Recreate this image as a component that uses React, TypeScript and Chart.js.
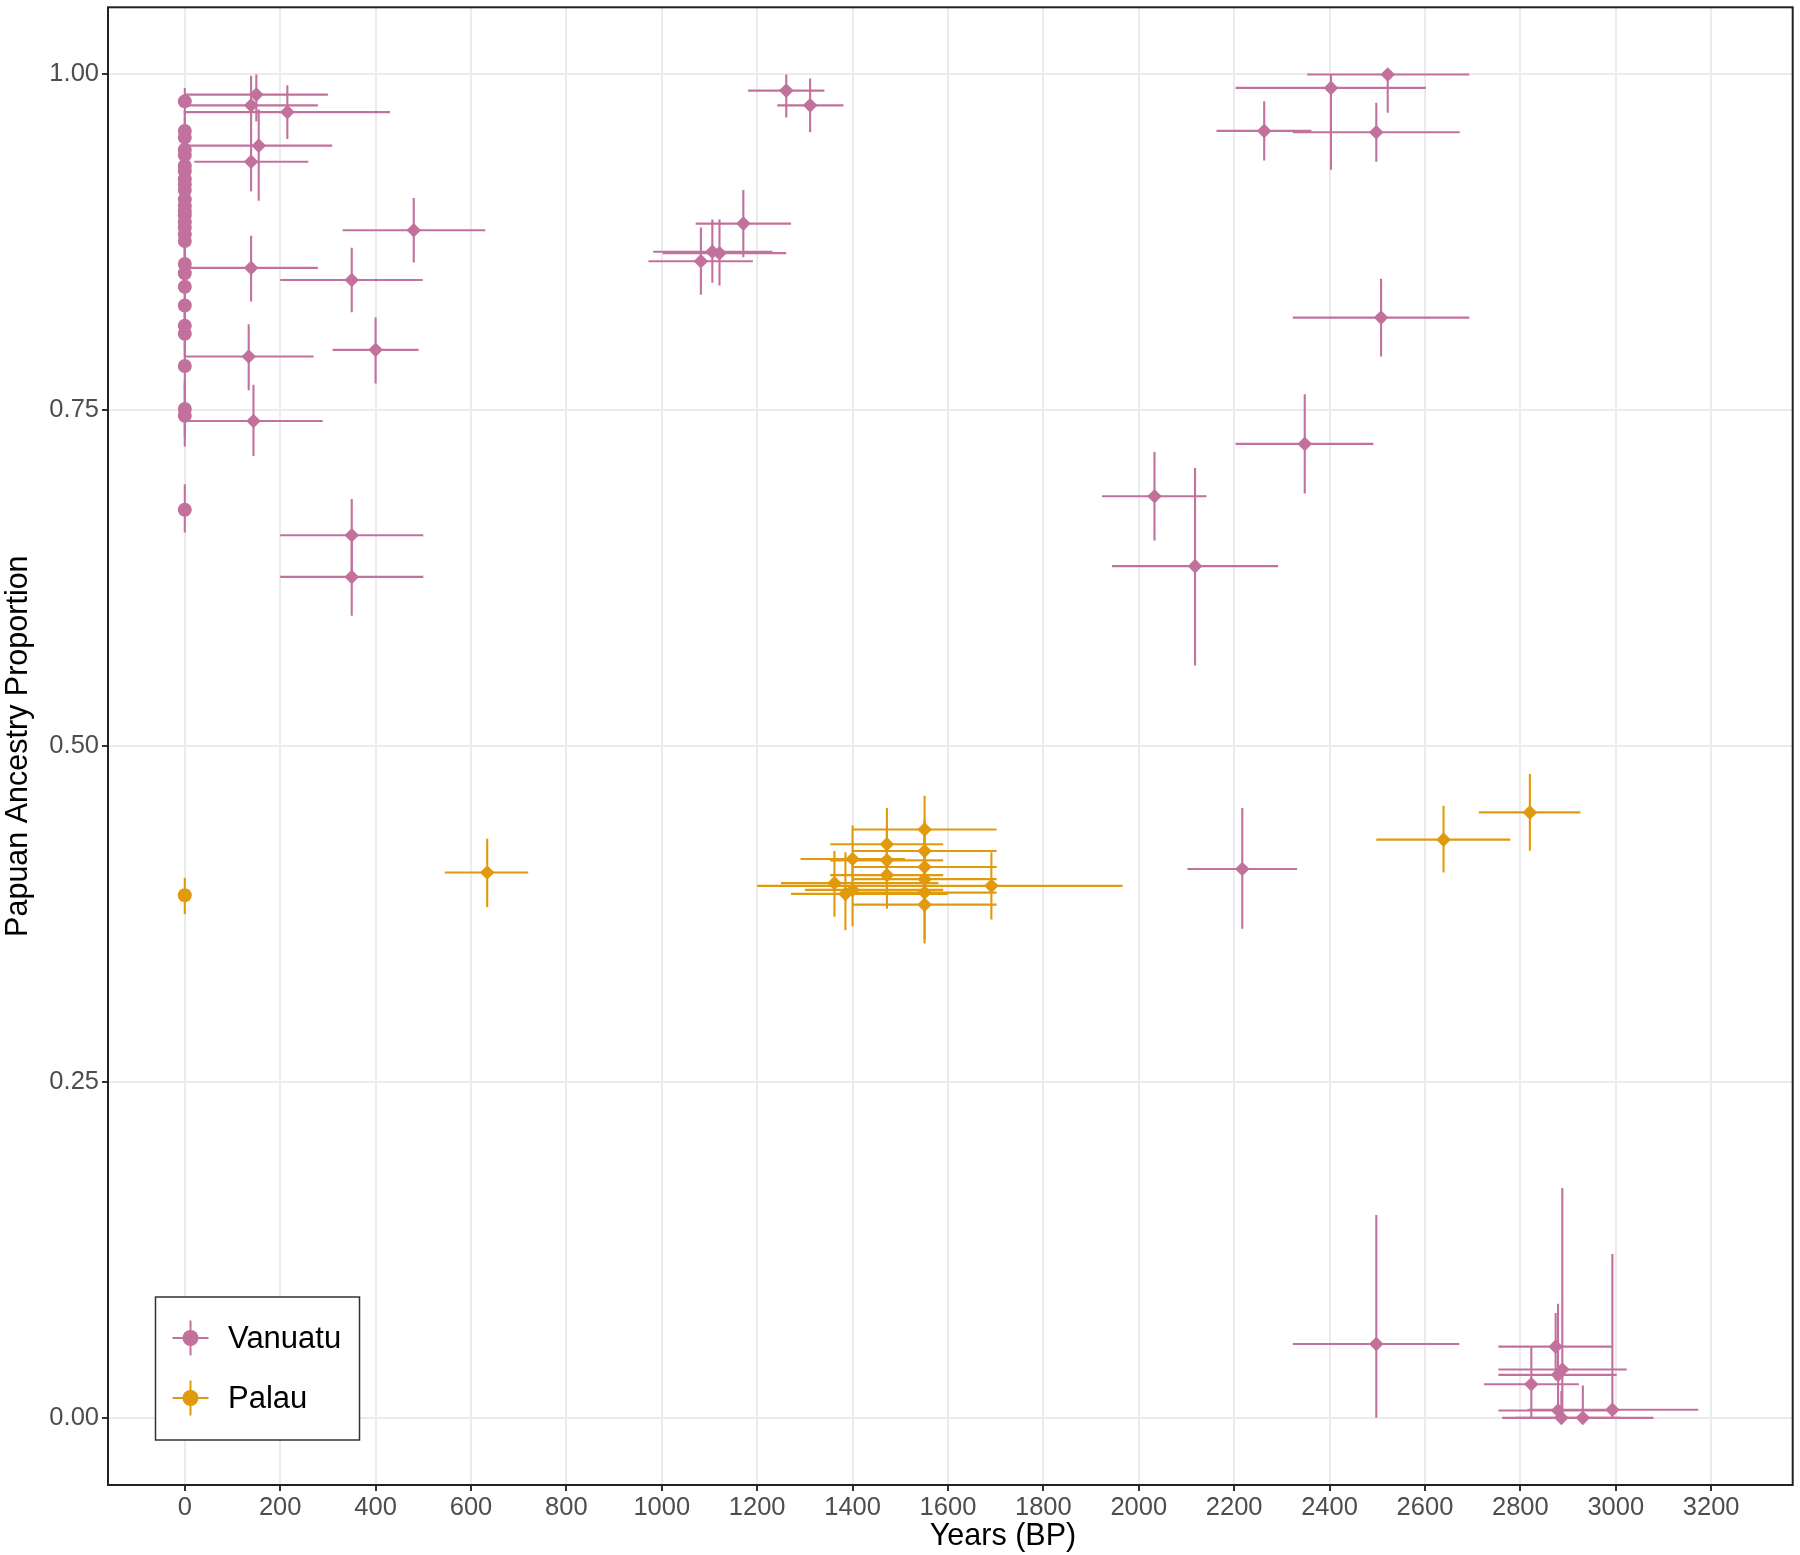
import { useEffect, useRef } from 'react';
import { Chart, registerables } from 'chart.js';

Chart.register(...registerables);

// ---- data -------------------------------------------------------------
const FONT = "'Liberation Sans', Arial, Helvetica, sans-serif";
const VAN_COLOR = '#C2719D';
const PAL_COLOR = '#E19A0C';

const xTicks = [0, 200, 400, 600, 800, 1000, 1200, 1400, 1600, 1800, 2000, 2200, 2400, 2600, 2800, 3000, 3200];
const yTicks = [0, 0.25, 0.5, 0.75, 1.0];

// Present-day Vanuatu samples (age 0), proportion with lower / upper bounds
const vanModernY = [0.980, 0.958, 0.953, 0.944, 0.940, 0.932, 0.928, 0.922, 0.918, 0.914, 0.907, 0.902, 0.898, 0.895, 0.890, 0.886, 0.881, 0.876, 0.859, 0.852, 0.842, 0.828, 0.813, 0.807, 0.783, 0.751, 0.746, 0.676];
const vanModernLo = [0.970, 0.943, 0.938, 0.929, 0.925, 0.917, 0.913, 0.907, 0.903, 0.899, 0.892, 0.887, 0.883, 0.880, 0.875, 0.871, 0.866, 0.861, 0.844, 0.837, 0.827, 0.813, 0.798, 0.790, 0.766, 0.730, 0.723, 0.659];
const vanModernHi = [0.990, 0.973, 0.968, 0.959, 0.955, 0.947, 0.943, 0.937, 0.933, 0.929, 0.922, 0.917, 0.913, 0.910, 0.905, 0.901, 0.896, 0.891, 0.874, 0.867, 0.857, 0.843, 0.828, 0.822, 0.800, 0.772, 0.769, 0.695];

// Ancient Vanuatu samples: age (BP), age range, proportion, proportion range
const vanAncYears = [150, 139, 215, 155, 139, 480, 139, 350, 400, 134, 144, 350, 350, 1082, 1106, 1121, 1171, 1261, 1311, 2522, 2403, 2263, 2498, 2508, 2348, 2033, 2118, 2217, 2498, 2874, 2888, 2879, 2823, 2879, 2993, 2886, 2931];
const vanAncYearLo = [0, 0, 0, 0, 20, 331, 0, 200, 310, 0, 0, 200, 200, 972, 982, 1002, 1071, 1181, 1242, 2353, 2203, 2163, 2323, 2323, 2203, 1923, 1944, 2102, 2323, 2754, 2754, 2754, 2724, 2754, 2815, 2762, 2790];
const vanAncYearHi = [300, 279, 430, 309, 259, 630, 279, 499, 490, 270, 289, 500, 500, 1191, 1232, 1261, 1271, 1341, 1381, 2693, 2602, 2362, 2673, 2693, 2492, 2142, 2292, 2332, 2672, 2993, 3023, 3002, 2923, 3000, 3173, 3010, 3079];
const vanAncY = [0.985, 0.977, 0.972, 0.947, 0.935, 0.884, 0.856, 0.847, 0.795, 0.790, 0.742, 0.657, 0.626, 0.861, 0.868, 0.867, 0.889, 0.988, 0.977, 1.000, 0.990, 0.958, 0.957, 0.819, 0.725, 0.686, 0.634, 0.4085, 0.055, 0.053, 0.036, 0.032, 0.025, 0.0055, 0.006, 0.000, 0.000];
const vanAncLo = [0.965, 0.955, 0.952, 0.906, 0.913, 0.860, 0.831, 0.823, 0.770, 0.765, 0.716, 0.630, 0.597, 0.836, 0.845, 0.843, 0.864, 0.968, 0.957, 0.9715, 0.929, 0.936, 0.935, 0.790, 0.688, 0.653, 0.560, 0.364, 0.000, 0.028, 0.000, 0.000, 0.000, 0.000, 0.000, 0.000, 0.000];
const vanAncHi = [1.000, 0.999, 0.992, 0.974, 0.957, 0.908, 0.880, 0.871, 0.819, 0.814, 0.769, 0.684, 0.652, 0.886, 0.892, 0.892, 0.914, 1.000, 0.997, 1.000, 1.000, 0.980, 0.979, 0.848, 0.762, 0.719, 0.707, 0.454, 0.151, 0.078, 0.171, 0.085, 0.053, 0.030, 0.122, 0.020, 0.024];

// Present-day Palau sample
const palModernY = [0.389];
const palModernLo = [0.375];
const palModernHi = [0.402];

// Ancient Palau samples
const palAncYears = [634, 1551, 1472, 1551, 1400, 1472, 1551, 1472, 1551, 1362, 1691, 1400, 1385, 1551, 1551, 2639, 2820];
const palAncYearLo = [545, 1399, 1353, 1399, 1291, 1353, 1399, 1353, 1399, 1250, 1200, 1300, 1271, 1399, 1400, 2498, 2713];
const palAncYearHi = [720, 1702, 1590, 1702, 1510, 1590, 1702, 1590, 1702, 1580, 1966, 1590, 1600, 1702, 1702, 2779, 2926];
const palAncY = [0.406, 0.438, 0.427, 0.422, 0.416, 0.415, 0.410, 0.404, 0.401, 0.398, 0.396, 0.393, 0.390, 0.391, 0.382, 0.4304, 0.4507];
const palAncLo = [0.380, 0.413, 0.400, 0.398, 0.390, 0.390, 0.385, 0.379, 0.376, 0.373, 0.371, 0.366, 0.363, 0.356, 0.353, 0.406, 0.4222];
const palAncHi = [0.431, 0.463, 0.454, 0.445, 0.441, 0.440, 0.435, 0.428, 0.425, 0.422, 0.421, 0.418, 0.421, 0.415, 0.406, 0.4557, 0.4792];

const legendItems = [
  { label: 'Vanuatu', color: VAN_COLOR },
  { label: 'Palau', color: PAL_COLOR },
];

// ---- helpers ----------------------------------------------------------
type Pt = { x: number; y: number; xMin?: number; xMax?: number; yMin: number; yMax: number };

function modernPoints(ys: number[], lo: number[], hi: number[]): Pt[] {
  return ys.map((y, i) => ({ x: 0, y, yMin: lo[i], yMax: hi[i] }));
}

function ancientPoints(xs: number[], xl: number[], xh: number[], ys: number[], lo: number[], hi: number[]): Pt[] {
  return xs.map((x, i) => ({ x, y: ys[i], xMin: xl[i], xMax: xh[i], yMin: lo[i], yMax: hi[i] }));
}

// horizontal and vertical ranges behind each point
const errorBars = {
  id: 'errorBars',
  beforeDatasetsDraw(chart: any) {
    const { ctx, chartArea, scales } = chart;
    const xs = scales.x;
    const ys = scales.y;
    ctx.save();
    ctx.beginPath();
    ctx.rect(chartArea.left, chartArea.top, chartArea.right - chartArea.left, chartArea.bottom - chartArea.top);
    ctx.clip();
    ctx.lineWidth = 2.1;
    ctx.lineCap = 'butt';
    chart.data.datasets.forEach((ds: any) => {
      ctx.strokeStyle = ds.backgroundColor;
      (ds.data as Pt[]).forEach((p) => {
        const px = xs.getPixelForValue(p.x);
        const py = ys.getPixelForValue(p.y);
        ctx.beginPath();
        if (p.xMin !== undefined && p.xMax !== undefined) {
          ctx.moveTo(xs.getPixelForValue(p.xMin), py);
          ctx.lineTo(xs.getPixelForValue(p.xMax), py);
        }
        ctx.moveTo(px, ys.getPixelForValue(p.yMin));
        ctx.lineTo(px, ys.getPixelForValue(p.yMax));
        ctx.stroke();
      });
    });
    ctx.restore();
  },
};

// panel border, axis titles and the in-panel legend
const frame = {
  id: 'frame',
  afterDraw(chart: any) {
    const { ctx, chartArea } = chart;
    const { left, top, right, bottom } = chartArea;
    ctx.save();
    ctx.strokeStyle = '#222222';
    ctx.lineWidth = 2;
    ctx.strokeRect(left, top, right - left, bottom - top);

    // axis titles
    ctx.fillStyle = '#000000';
    ctx.font = `30.5px ${FONT}`;
    ctx.textAlign = 'center';
    ctx.textBaseline = 'alphabetic';
    ctx.fillText('Years (BP)', 1003, 1545);
    ctx.save();
    ctx.translate(27, (top + bottom) / 2);
    ctx.rotate(-Math.PI / 2);
    ctx.fillText('Papuan Ancestry Proportion', 0, 0);
    ctx.restore();

    // legend box
    const bx = 155.5, by = 1297, bw = 204, bh = 143;
    ctx.fillStyle = '#FFFFFF';
    ctx.fillRect(bx, by, bw, bh);
    ctx.strokeStyle = '#333333';
    ctx.lineWidth = 1.5;
    ctx.strokeRect(bx, by, bw, bh);
    legendItems.forEach((item, i) => {
      const cx = 190.5;
      const cy = 1338 + i * 60;
      ctx.strokeStyle = item.color;
      ctx.fillStyle = item.color;
      ctx.lineWidth = 2;
      ctx.beginPath();
      ctx.moveTo(cx - 18, cy);
      ctx.lineTo(cx + 18, cy);
      ctx.moveTo(cx, cy - 17.5);
      ctx.lineTo(cx, cy + 17.5);
      ctx.stroke();
      ctx.beginPath();
      ctx.arc(cx, cy, 8, 0, Math.PI * 2);
      ctx.fill();
      ctx.fillStyle = '#000000';
      ctx.font = `31px ${FONT}`;
      ctx.textAlign = 'left';
      ctx.textBaseline = 'alphabetic';
      ctx.fillText(item.label, 228, cy + 10);
    });
    ctx.restore();
  },
};

export default function App() {
  const canvasRef = useRef<HTMLCanvasElement | null>(null);

  useEffect(() => {
    const canvas = canvasRef.current;
    if (!canvas) return;

    const chart = new Chart(canvas, {
      type: 'scatter',
      data: {
        datasets: [
          {
            label: 'Vanuatu',
            data: modernPoints(vanModernY, vanModernLo, vanModernHi) as any,
            pointStyle: 'circle',
            pointRadius: 7,
            backgroundColor: VAN_COLOR,
            borderColor: VAN_COLOR,
            borderWidth: 0,
          },
          {
            label: 'Vanuatu',
            data: ancientPoints(vanAncYears, vanAncYearLo, vanAncYearHi, vanAncY, vanAncLo, vanAncHi) as any,
            pointStyle: 'rectRot',
            pointRadius: 7.3,
            backgroundColor: VAN_COLOR,
            borderColor: VAN_COLOR,
            borderWidth: 0,
          },
          {
            label: 'Palau',
            data: modernPoints(palModernY, palModernLo, palModernHi) as any,
            pointStyle: 'circle',
            pointRadius: 7,
            backgroundColor: PAL_COLOR,
            borderColor: PAL_COLOR,
            borderWidth: 0,
          },
          {
            label: 'Palau',
            data: ancientPoints(palAncYears, palAncYearLo, palAncYearHi, palAncY, palAncLo, palAncHi) as any,
            pointStyle: 'rectRot',
            pointRadius: 7.3,
            backgroundColor: PAL_COLOR,
            borderColor: PAL_COLOR,
            borderWidth: 0,
          },
        ],
      },
      options: {
        responsive: false,
        animation: false,
        devicePixelRatio: 1,
        layout: { padding: { top: 4, right: 2, left: 0, bottom: 0 } },
        plugins: {
          legend: { display: false },
          tooltip: { enabled: false },
        },
        scales: {
          x: {
            type: 'linear',
            min: -161,
            max: 3371,
            afterBuildTicks: (s: any) => {
              s.ticks = xTicks.map((v) => ({ value: v }));
            },
            afterFit: (s: any) => {
              s.height = 70;
              s.paddingLeft = 0;
              s.paddingRight = 0;
            },
            grid: {
              color: '#EBEBEB',
              lineWidth: 2,
              drawTicks: true,
              tickLength: 6,
              tickColor: '#333333',
              tickWidth: 2,
            },
            border: { display: false },
            ticks: {
              font: { family: FONT, size: 25.5 },
              color: '#4D4D4D',
              padding: 2,
              maxRotation: 0,
              autoSkip: false,
              callback: (v: any) => String(v),
            },
          },
          y: {
            type: 'linear',
            min: -0.05,
            max: 1.05,
            afterBuildTicks: (s: any) => {
              s.ticks = yTicks.map((v) => ({ value: v }));
            },
            afterFit: (s: any) => {
              s.width = 108;
              s.paddingTop = 0;
              s.paddingBottom = 0;
            },
            grid: {
              color: '#EBEBEB',
              lineWidth: 2,
              drawTicks: true,
              tickLength: 6,
              tickColor: '#333333',
              tickWidth: 2,
            },
            border: { display: false },
            ticks: {
              font: { family: FONT, size: 25.5 },
              color: '#4D4D4D',
              padding: 3,
              autoSkip: false,
              callback: (v: any) => Number(v).toFixed(2),
            },
          },
        },
      },
      plugins: [errorBars, frame],
    });

    return () => chart.destroy();
  }, []);

  return (
    <div style={{ position: 'absolute', left: 0, top: 0, width: 1800, height: 1555, background: '#FFFFFF' }}>
      <canvas ref={canvasRef} width={1800} height={1555} style={{ width: 1800, height: 1555, display: 'block' }} />
    </div>
  );
}
